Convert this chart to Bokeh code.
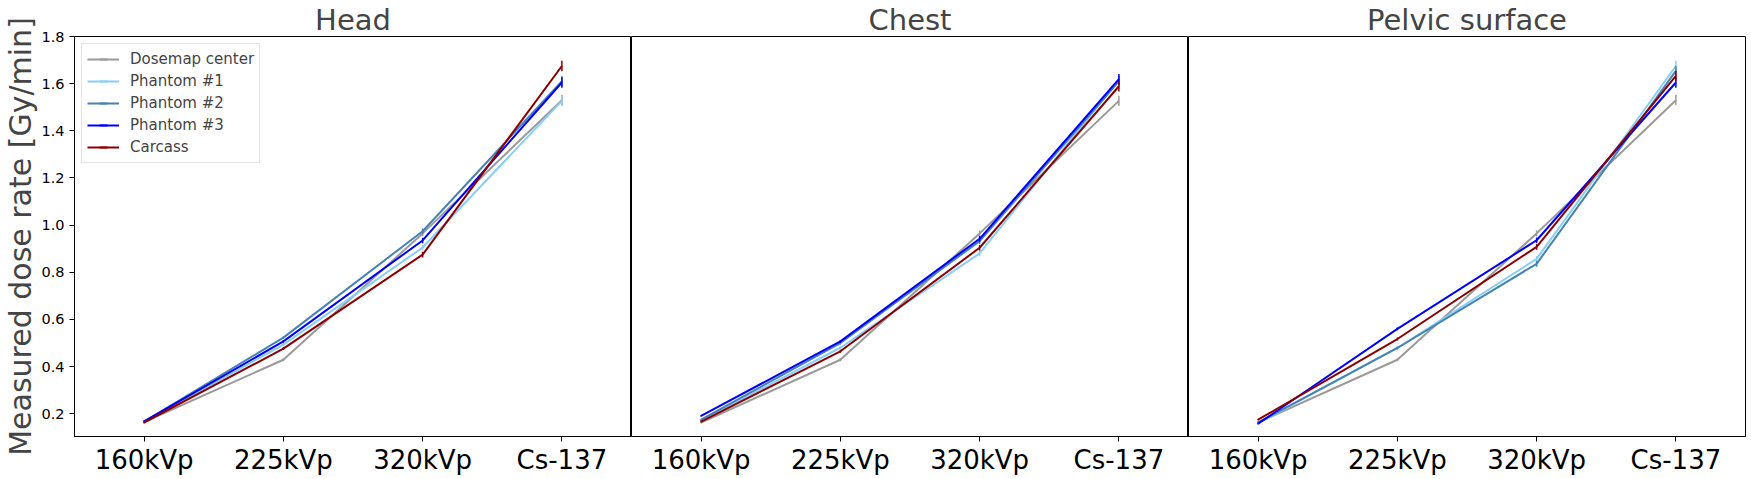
import math
from bokeh.plotting import figure
from bokeh.models import Range1d, FactorRange, FixedTicker, Legend, LegendItem, PrintfTickFormatter
from bokeh.layouts import row
from bokeh.embed import file_html
from bokeh.resources import INLINE

# ---------------- data ----------------
categories = ["160kVp", "225kVp", "320kVp", "Cs-137"]
panel_titles = ["Head", "Chest", "Pelvic surface"]
series_names = ["Dosemap center", "Phantom #1", "Phantom #2", "Phantom #3", "Carcass"]
series_colors = ["#9a9a9a", "#87cefa", "#4682b4", "#0000ff", "#8b0000"]

head_dosemap = [0.165, 0.429, 0.965, 1.530]
head_p1 = [0.166, 0.493, 0.905, 1.527]
head_p2 = [0.167, 0.523, 0.974, 1.610]
head_p3 = [0.168, 0.507, 0.935, 1.605]
head_carcass = [0.163, 0.476, 0.875, 1.675]

chest_dosemap = [0.163, 0.429, 0.965, 1.527]
chest_p1 = [0.172, 0.480, 0.880, 1.615]
chest_p2 = [0.175, 0.500, 0.932, 1.610]
chest_p3 = [0.191, 0.507, 0.942, 1.619]
chest_carcass = [0.167, 0.465, 0.904, 1.589]

pelvic_dosemap = [0.163, 0.429, 0.965, 1.530]
pelvic_p1 = [0.160, 0.479, 0.857, 1.675]
pelvic_p2 = [0.163, 0.479, 0.836, 1.654]
pelvic_p3 = [0.158, 0.560, 0.936, 1.605]
pelvic_carcass = [0.175, 0.517, 0.908, 1.633]

errors = [0.004, 0.006, 0.012, 0.022]

y_ticks = [0.2, 0.4, 0.6, 0.8, 1.0, 1.2, 1.4, 1.6, 1.8]
y_limits = (0.1036, 1.8)

panel_data = [
    [head_dosemap, head_p1, head_p2, head_p3, head_carcass],
    [chest_dosemap, chest_p1, chest_p2, chest_p3, chest_carcass],
    [pelvic_dosemap, pelvic_p1, pelvic_p2, pelvic_p3, pelvic_carcass],
]

# ---------------- plot ----------------
FONT = "DejaVu Sans"
y_range = Range1d(*y_limits)
figs = []
for i, (title, data) in enumerate(zip(panel_titles, panel_data)):
    first = i == 0
    last = i == 2
    p = figure(
        x_range=FactorRange(*categories),
        y_range=y_range,
        frame_width=557,
        frame_height=400,
        output_backend="svg",
        toolbar_location=None,
        min_border_top=0,
        min_border_bottom=0,
        min_border_left=0,
        min_border_right=3 if last else 0,
        title=title,
    )
    p.title.text_font = FONT
    p.title.text_font_size = "29px"
    p.title.text_font_style = "normal"
    p.title.align = "center"
    p.title.standoff = 0
    p.title.offset = 0

    p.xgrid.visible = False
    p.ygrid.visible = False
    p.outline_line_color = "black"
    p.outline_line_width = 1
    p.outline_line_alpha = 1
    p.background_fill_color = "white"
    p.border_fill_color = "white"

    p.xaxis.major_label_text_font = FONT
    p.xaxis.major_label_text_font_size = "26px"
    p.xaxis.major_tick_out = 5
    p.xaxis.major_tick_in = 0
    p.xaxis.minor_tick_line_color = None
    p.xaxis.axis_line_color = "black"
    p.xaxis.major_tick_line_color = "black"
    p.xaxis.major_label_standoff = 3
    p.xaxis.major_label_text_color = "black"

    if first:
        p.yaxis.ticker = FixedTicker(ticks=y_ticks)
        p.yaxis.formatter = PrintfTickFormatter(format="%.1f")
        p.yaxis.major_label_text_font = FONT
        p.yaxis.major_label_text_font_size = "14.5px"
        p.yaxis.major_label_text_color = "black"
        p.yaxis.major_tick_out = 5
        p.yaxis.major_tick_in = 0
        p.yaxis.minor_tick_line_color = None
        p.yaxis.major_label_standoff = 5
        p.yaxis.axis_label = "Measured dose rate [Gy/min]"
        p.yaxis.axis_label_text_font = FONT
        p.yaxis.axis_label_text_font_size = "30px"
        p.yaxis.axis_label_text_font_style = "normal"
        p.yaxis.axis_label_standoff = 0
        p.yaxis.axis_line_color = "black"
    else:
        p.yaxis.visible = False

    items = []
    for name, color, vals in zip(series_names, series_colors, data):
        lo = [v - e for v, e in zip(vals, errors)]
        hi = [v + e for v, e in zip(vals, errors)]
        line_r = p.line(categories, vals, line_color=color, line_width=2)
        p.segment(x0=categories, y0=lo, x1=categories, y1=hi,
                  line_color=color, line_width=1.5)
        tick_r = p.scatter(categories, vals, marker="dash", angle=math.pi / 2,
                           size=0, line_color=color, line_width=2)
        items.append(LegendItem(label=name, renderers=[line_r, tick_r]))

    if first:
        legend = Legend(items=items, location="top_left")
        legend.margin = 7
        legend.padding = 5
        legend.spacing = 2
        legend.glyph_height = 20
        legend.glyph_width = 32
        legend.label_height = 20
        legend.label_standoff = 11
        legend.label_text_font = FONT
        legend.label_text_font_size = "15px"
        legend.border_line_color = "#cccccc"
        legend.border_line_width = 1
        legend.background_fill_alpha = 0.8
        p.add_layout(legend)

    figs.append(p)

layout = row(*figs, spacing=0)
open("out.html", "w").write(file_html(layout, INLINE))
